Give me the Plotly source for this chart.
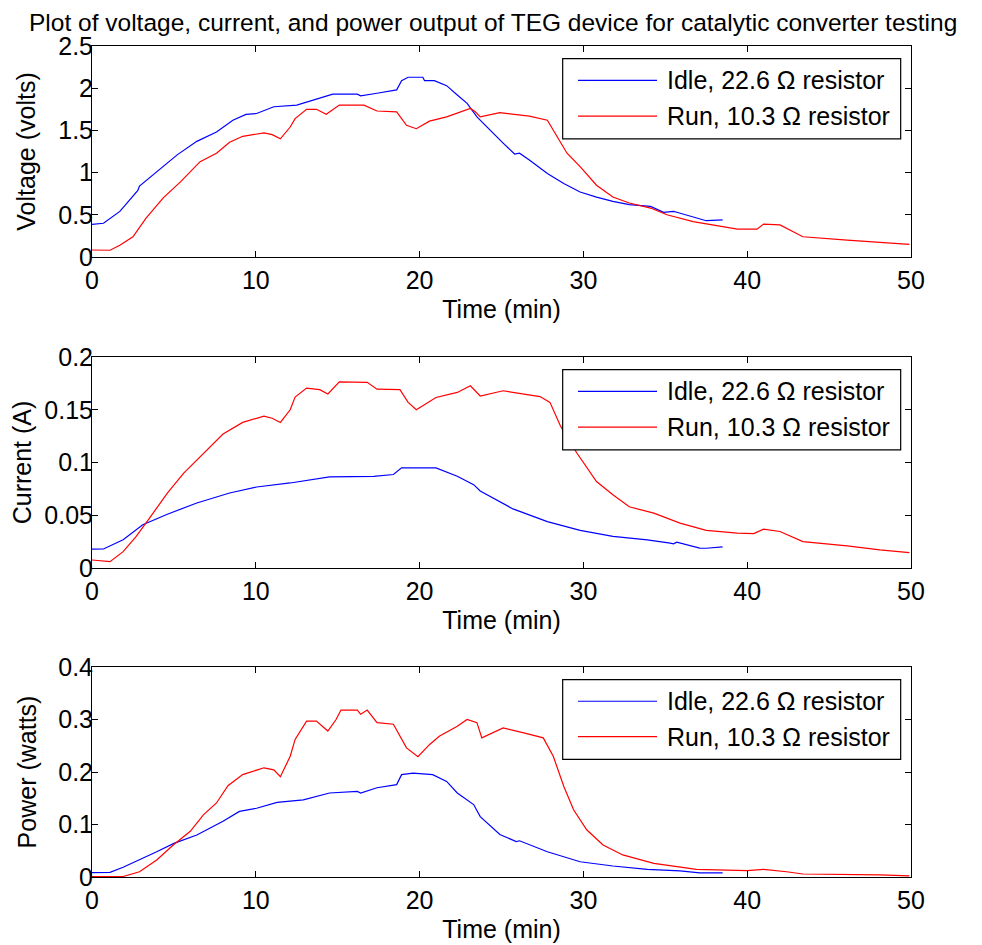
import plotly.graph_objects as go

# ---------------- data ----------------
t_v_idle = [0, 0.7, 1.7, 2.8, 2.9, 3.95, 5.2, 6.4, 7.6, 8.6, 9.4, 10.05, 11.1, 12.5, 13.7, 14.7, 16.2, 16.4,
            17.4, 18.6, 18.9, 19.3, 20.2, 20.3, 20.9, 21.65, 22.3, 22.9, 23.5, 24.3, 25.1, 25.8, 26.1, 26.7,
            27.8, 28.8, 29.8, 30.8, 31.8, 32.8, 34.1, 34.9, 35.5, 35.7, 36.2, 37.5, 38.5]
v_idle = [0.387, 0.40, 0.54, 0.79, 0.84, 1.01, 1.21, 1.37, 1.48, 1.62, 1.69, 1.70, 1.78, 1.80, 1.87, 1.93, 1.93, 1.91,
          1.94, 1.98, 2.09, 2.13, 2.13, 2.09, 2.09, 2.03, 1.92, 1.82, 1.66, 1.50, 1.35, 1.22, 1.23, 1.15,
          0.99, 0.87, 0.77, 0.71, 0.66, 0.62, 0.60, 0.53, 0.54, 0.53, 0.50, 0.43, 0.44]

t_v_run = [0, 1.1, 1.7, 2.5, 3.3, 4.35, 5.4, 6.6, 7.6, 8.4, 9.2, 10.5, 11.0, 11.5, 12.1, 12.4, 13.1, 13.7, 14.3,
           15.1, 16.6, 17.4, 18.6, 19.2, 19.8, 20.6, 21.65, 23.1, 23.4, 23.7, 24.9, 26.7, 27.8, 28.4, 29.0,
           29.8, 30.8, 31.8, 32.8, 34.1, 35.1, 36.7, 37.9, 39.4, 40.6, 41.0, 42.0, 43.4, 46.1, 48.1, 49.9]
v_run = [0.083, 0.08, 0.14, 0.24, 0.46, 0.70, 0.89, 1.13, 1.23, 1.36, 1.43, 1.47, 1.45, 1.40, 1.54, 1.64, 1.75, 1.75, 1.69,
         1.80, 1.80, 1.73, 1.72, 1.56, 1.52, 1.61, 1.66, 1.76, 1.72, 1.66, 1.71, 1.67, 1.62, 1.43, 1.23,
         1.07, 0.85, 0.71, 0.64, 0.58, 0.50, 0.42, 0.38, 0.33, 0.33, 0.39, 0.38, 0.24, 0.20, 0.17, 0.15]

t_i_idle = [0, 0.7, 1.9, 3.1, 4.6, 6.4, 8.4, 10.05, 12.1, 14.5, 17.2, 18.4, 18.9, 21.0, 22.3, 23.3, 23.7, 24.3,
            24.9, 25.7, 27.8, 29.8, 31.8, 33.9, 35.3, 35.5, 35.7, 37.1, 37.5, 38.5]
i_idle = [0.0178, 0.018, 0.0267, 0.041, 0.051, 0.0616, 0.0711, 0.0768, 0.0806, 0.0863, 0.0869, 0.0886, 0.0949, 0.0949,
          0.087, 0.079, 0.073, 0.068, 0.063, 0.056, 0.044, 0.0356, 0.030, 0.0267, 0.0235, 0.0229, 0.0245,
          0.0188, 0.0187, 0.020]

t_i_run = [0, 1.1, 1.9, 2.7, 3.5, 4.6, 5.6, 6.8, 8.0, 9.2, 10.5, 11.0, 11.5, 12.1, 12.4, 13.1, 13.9, 14.4, 15.1,
           16.8, 17.4, 18.8, 19.3, 19.8, 21.0, 22.3, 23.1, 23.7, 25.1, 27.35, 27.96, 28.6, 29.6, 30.8, 31.8,
           32.8, 34.3, 35.9, 37.5, 39.4, 40.4, 41.0, 42.0, 43.4, 46.1, 48.1, 49.9]
i_run = [0.0076, 0.006, 0.0155, 0.030, 0.047, 0.071, 0.090, 0.109, 0.127, 0.138, 0.144, 0.142, 0.138, 0.150, 0.162,
         0.1705, 0.169, 0.165, 0.1765, 0.176, 0.1695, 0.169, 0.157, 0.150, 0.1616, 0.1664, 0.1727, 0.163, 0.168,
         0.1625, 0.157, 0.1346, 0.109, 0.082, 0.0695, 0.058, 0.052, 0.0426, 0.0356, 0.033, 0.0326, 0.0368,
         0.0346, 0.025, 0.021, 0.0171, 0.0146]

t_p_idle = [0, 1.1, 1.9, 2.9, 3.95, 5.0, 6.4, 8.0, 9.0, 10.05, 11.3, 12.9, 14.5, 16.2, 16.4, 17.4, 18.6, 18.9,
            19.6, 20.8, 21.65, 22.3, 23.3, 23.7, 24.9, 25.9, 26.1, 27.8, 29.8, 31.8, 33.9, 35.9, 37.1, 38.5]
p_idle = [0.0082, 0.009, 0.0185, 0.0325, 0.048, 0.064, 0.080, 0.106, 0.125, 0.131, 0.142, 0.147, 0.160, 0.163, 0.160,
          0.170, 0.176, 0.195, 0.198, 0.195, 0.182, 0.160, 0.138, 0.115, 0.081, 0.0675, 0.069, 0.048, 0.029,
          0.021, 0.0147, 0.0115, 0.008, 0.008]

t_p_run = [0, 1.9, 2.9, 3.95, 4.96, 6.0, 6.8, 7.6, 8.3, 9.2, 10.5, 11.1, 11.5, 12.1, 12.4, 13.1, 13.7, 14.4, 14.9,
           15.2, 16.2, 16.4, 16.8, 17.4, 18.4, 19.2, 19.9, 20.6, 21.2, 22.3, 22.9, 23.5, 23.8, 25.1, 26.3,
           27.55, 28.16, 28.8, 29.4, 30.2, 31.2, 32.4, 34.3, 36.9, 40.0, 41.0, 42.4, 43.4, 48.1, 49.9]
p_run = [0.0006, 0.001, 0.010, 0.0325, 0.061, 0.087, 0.1185, 0.141, 0.174, 0.195, 0.208, 0.204, 0.191, 0.230, 0.262,
         0.297, 0.297, 0.278, 0.300, 0.318, 0.318, 0.310, 0.318, 0.294, 0.291, 0.246, 0.229, 0.252, 0.268,
         0.287, 0.300, 0.294, 0.265, 0.284, 0.275, 0.265, 0.230, 0.173, 0.128, 0.090, 0.061, 0.042, 0.026,
         0.0147, 0.012, 0.0147, 0.010, 0.0057, 0.004, 0.002]

x_ticks = [0, 10, 20, 30, 40, 50]
y_titles = ["Voltage (volts)", "Current (A)", "Power (watts)"]
y_ranges = [[0, 2.5], [0, 0.2], [0, 0.4]]
y_dticks = [0.5, 0.05, 0.1]
legend_names = ["Idle, 22.6 \u03a9 resistor", "Run, 10.3 \u03a9 resistor"]
colors = ["#0000FF", "#FF0000"]
title_text = "Plot of voltage, current, and power output of TEG device for catalytic converter testing"

FONT = "Liberation Sans, Arial, sans-serif"
FS = 25

series = [
    (t_v_idle, v_idle, t_v_run, v_run),
    (t_i_idle, i_idle, t_i_run, i_run),
    (t_p_idle, p_idle, t_p_run, p_run),
]

W, H = 982, 945
OFF = 8  # page body margin offset
x_dom = [(92 - OFF) / W, (911 - OFF) / W]
y_px = [(46, 257), (357, 568), (667, 877)]
y_doms = [[1 - (b - OFF) / H, 1 - (t - OFF) / H] for t, b in y_px]
y_title_standoff = [15, 28, 14]

fig = go.Figure()
shapes = []
annotations = []
for k, (tx1, y1, tx2, y2) in enumerate(series):
    ax = "" if k == 0 else str(k + 1)
    fig.add_trace(go.Scatter(x=tx1, y=y1, mode="lines", name=legend_names[0],
                             line=dict(color=colors[0], width=1.2), xaxis="x" + ax, yaxis="y" + ax,
                             showlegend=False))
    fig.add_trace(go.Scatter(x=tx2, y=y2, mode="lines", name=legend_names[1],
                             line=dict(color=colors[1], width=1.2), xaxis="x" + ax, yaxis="y" + ax,
                             showlegend=False))
    axis_common = dict(showline=True, linecolor="black", linewidth=1, mirror="allticks",
                       ticks="inside", ticklen=6, tickcolor="black", showgrid=False, zeroline=False,
                       automargin=False,
                       tickfont=dict(family=FONT, size=FS, color="black"))
    fig.update_layout(**{
        "xaxis" + ax: dict(domain=x_dom, range=[0, 50], tickvals=x_ticks, anchor="y" + ax,
                           ticklabelstandoff=1,
                           title=dict(text="Time (min)", font=dict(family=FONT, size=FS, color="black"),
                                      standoff=7),
                           **axis_common),
        "yaxis" + ax: dict(domain=y_doms[k], range=y_ranges[k], dtick=y_dticks[k], tick0=0,
                           anchor="x" + ax, ticklabelstandoff=-7,
                           title=dict(text=y_titles[k], font=dict(family=FONT, size=FS, color="black"),
                                      standoff=y_title_standoff[k]),
                           **axis_common),
    })
    # manual MATLAB-style legend box
    xr, yr = "x" + ax + " domain", "y" + ax + " domain"
    shapes.append(dict(type="rect", xref=xr, yref=yr, x0=0.5747, x1=0.9874, y0=0.56, y1=0.94,
                       line=dict(color="black", width=1.2), fillcolor="white", layer="above"))
    for j, yy in enumerate([0.837, 0.668]):
        shapes.append(dict(type="line", xref=xr, yref=yr, x0=0.5934, x1=0.6899, y0=yy, y1=yy,
                           line=dict(color=colors[j], width=1.2), layer="above"))
        annotations.append(dict(xref=xr, yref=yr, x=0.6993, y=yy, xanchor="left", yanchor="middle",
                                text=legend_names[j], showarrow=False,
                                font=dict(family=FONT, size=FS, color="black")))

annotations.append(dict(xref="paper", yref="paper", x=(493 - OFF) / W, y=1.0,
                        xanchor="center", yanchor="top", text=title_text, showarrow=False,
                        borderpad=0, font=dict(family=FONT, size=24.5, color="black")))

fig.update_layout(width=W, height=H, margin=dict(l=0, r=0, t=0, b=0, autoexpand=False),
                  paper_bgcolor="white", plot_bgcolor="white",
                  shapes=shapes, annotations=annotations, showlegend=False,
                  font=dict(family=FONT, size=FS, color="black"))

fig.write_html("out.html")
